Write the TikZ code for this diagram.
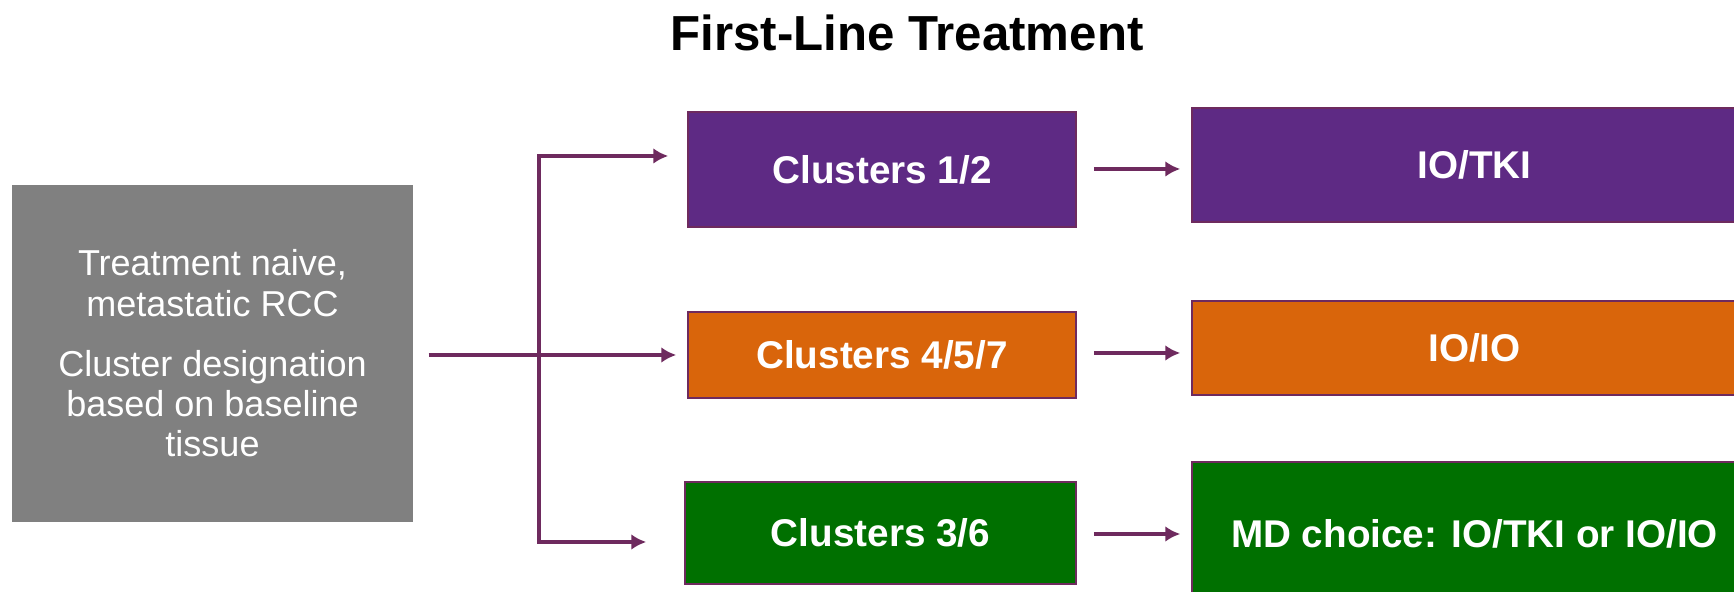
\documentclass[tikz,border=0pt]{standalone}
\usepackage{fontspec}
\setmainfont{Liberation Sans}
\usetikzlibrary{arrows.meta}

\definecolor{boxgray}{HTML}{808080}
\definecolor{boxpurple}{HTML}{5E2A84}
\definecolor{boxorange}{HTML}{D9650B}
\definecolor{boxgreen}{HTML}{007000}
\definecolor{linkpurple}{HTML}{6E2A5E}

\begin{document}
\begin{tikzpicture}[>={Latex[length=8.5pt,width=9pt]},line width=1.8pt,
  box/.style={draw=linkpurple,line width=0.9pt,text=white,inner sep=0pt,
    font=\bfseries\fontsize{22}{26}\selectfont},
  link/.style={->,draw=linkpurple}]

\useasboundingbox (0,0) rectangle (34.68,11.84);
\clip (0,0) rectangle (34.68,11.84);

\node[font=\bfseries\fontsize{28}{34}\selectfont] (title) at (18.14,11.18) {First-Line Treatment};

% patient group
\node[fill=boxgray,text=white,minimum width=8.02cm,minimum height=6.74cm,
  align=center,font=\fontsize{20.5}{23}\selectfont] (naive) at (4.25,4.77)
  {Treatment naive,\\ metastatic RCC\\[11pt] Cluster designation\\ based on baseline\\ tissue};

% cluster groups
\node[box,fill=boxpurple,minimum width=7.76cm,minimum height=2.30cm] (c12) at (17.64,8.45) {Clusters 1/2};
\node[box,fill=boxorange,minimum width=7.76cm,minimum height=1.72cm] (c457) at (17.64,4.74) {Clusters 4/5/7};
\node[box,fill=boxgreen,minimum width=7.82cm,minimum height=2.04cm] (c36) at (17.61,1.18) {Clusters 3/6};

% treatments
\node[box,fill=boxpurple,minimum width=11.3cm,minimum height=2.28cm] (iotki) at (29.49,8.54) {IO/TKI};
\node[box,fill=boxorange,minimum width=11.3cm,minimum height=1.88cm] (ioio) at (29.49,4.88) {IO/IO};
\node[box,fill=boxgreen,minimum width=11.3cm,minimum height=2.88cm] (mdchoice) at (29.49,1.16) {MD choice: IO/TKI or IO/IO};

\coordinate (split) at (10.78,4.74);

\draw[link,shorten <=0.28cm,shorten >=0.22cm] (naive.east |- split) -- (c457.west);
\draw[link,shorten >=0.38cm] (split) |- ([yshift=0.27cm]c12.west);
\draw[link,shorten >=0.76cm] (split) |- ([yshift=-0.18cm]c36.west);

\path ([yshift=0.01cm]c12.east) edge[link,shorten <=0.34cm,shorten >=0.22cm] ([yshift=0.01cm]c12.east -| iotki.west)
      ([yshift=0.04cm]c457.east) edge[link,shorten <=0.34cm,shorten >=0.22cm] ([yshift=0.04cm]c457.east -| ioio.west)
      ([yshift=-0.02cm]c36.east) edge[link,shorten <=0.34cm,shorten >=0.22cm] ([yshift=-0.02cm]c36.east -| mdchoice.west);

\end{tikzpicture}
\end{document}
